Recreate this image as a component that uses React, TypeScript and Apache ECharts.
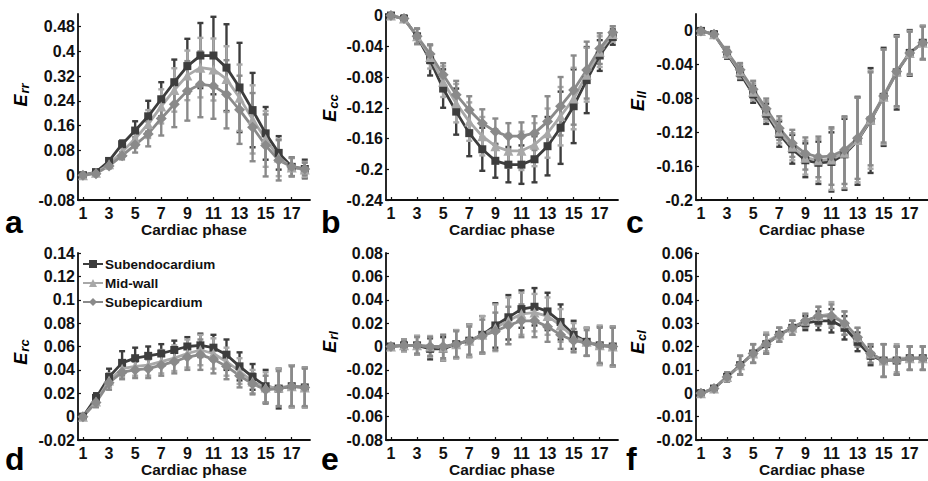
import React, { useEffect, useRef } from "react";
import * as echarts from "echarts";

const phases = [1, 2, 3, 4, 5, 6, 7, 8, 9, 10, 11, 12, 13, 14, 15, 16, 17, 18];
const oddTicks = [1, 3, 5, 7, 9, 11, 13, 15, 17];
const seriesNames = ["Subendocardium", "Mid-wall", "Subepicardium"];
const panelLetters = ["a", "b", "c", "d", "e", "f"];
const strainLabels = [["E", "rr"], ["E", "cc"], ["E", "ll"], ["E", "rc"], ["E", "rl"], ["E", "cl"]];
const xAxisTitle = "Cardiac phase";

// Panel a: Err
const errEndo = [0, 0.01, 0.046, 0.1, 0.144, 0.19, 0.245, 0.3, 0.352, 0.386, 0.386, 0.347, 0.283, 0.21, 0.135, 0.072, 0.027, 0.02];
const errEndoSd = [0.002, 0.005, 0.008, 0.012, 0.03, 0.05, 0.055, 0.073, 0.088, 0.105, 0.125, 0.14, 0.144, 0.12, 0.085, 0.054, 0.03, 0.03];
const errMid = [0, 0.008, 0.035, 0.075, 0.118, 0.165, 0.222, 0.275, 0.322, 0.347, 0.341, 0.31, 0.25, 0.18, 0.117, 0.057, 0.025, 0.018];
const errMidSd = [0.002, 0.005, 0.008, 0.012, 0.03, 0.045, 0.055, 0.07, 0.08, 0.096, 0.1, 0.106, 0.107, 0.11, 0.09, 0.06, 0.03, 0.025];
const errEpi = [0, 0.005, 0.03, 0.063, 0.098, 0.133, 0.183, 0.229, 0.272, 0.293, 0.288, 0.261, 0.211, 0.155, 0.096, 0.048, 0.027, 0.02];
const errEpiSd = [0.002, 0.005, 0.008, 0.012, 0.025, 0.04, 0.055, 0.074, 0.096, 0.106, 0.106, 0.11, 0.11, 0.11, 0.1, 0.065, 0.03, 0.02];

// Panel b: Ecc
const eccEndo = [0, -0.004, -0.027, -0.058, -0.095, -0.125, -0.153, -0.174, -0.189, -0.194, -0.194, -0.187, -0.17, -0.146, -0.118, -0.084, -0.052, -0.028];
const eccEndoSd = [0.001, 0.004, 0.01, 0.02, 0.025, 0.03, 0.03, 0.028, 0.022, 0.023, 0.025, 0.03, 0.038, 0.047, 0.048, 0.043, 0.02, 0.01];
const eccMid = [0, -0.004, -0.027, -0.054, -0.086, -0.114, -0.138, -0.157, -0.17, -0.176, -0.176, -0.168, -0.153, -0.131, -0.108, -0.077, -0.047, -0.024];
const eccMidSd = [0.001, 0.004, 0.01, 0.015, 0.02, 0.025, 0.025, 0.025, 0.022, 0.022, 0.025, 0.028, 0.032, 0.038, 0.04, 0.035, 0.02, 0.01];
const eccEpi = [0, -0.004, -0.027, -0.05, -0.077, -0.103, -0.123, -0.14, -0.151, -0.157, -0.157, -0.153, -0.138, -0.118, -0.097, -0.071, -0.043, -0.022];
const eccEpiSd = [0.001, 0.004, 0.01, 0.012, 0.015, 0.018, 0.018, 0.018, 0.017, 0.017, 0.018, 0.022, 0.033, 0.038, 0.045, 0.037, 0.02, 0.008];

// Panel c: Ell
const ellEndo = [0, -0.004, -0.027, -0.05, -0.075, -0.098, -0.122, -0.14, -0.153, -0.156, -0.155, -0.146, -0.13, -0.106, -0.078, -0.049, -0.026, -0.014];
const ellEndoSd = [0.001, 0.003, 0.006, 0.008, 0.01, 0.012, 0.015, 0.017, 0.02, 0.025, 0.035, 0.042, 0.052, 0.062, 0.058, 0.044, 0.027, 0.02];
const ellMid = [0, -0.004, -0.026, -0.048, -0.072, -0.095, -0.119, -0.137, -0.15, -0.153, -0.152, -0.144, -0.129, -0.105, -0.078, -0.048, -0.026, -0.014];
const ellMidSd = [0.001, 0.003, 0.006, 0.008, 0.01, 0.012, 0.014, 0.016, 0.02, 0.025, 0.036, 0.042, 0.05, 0.058, 0.056, 0.042, 0.026, 0.02];
const ellEpi = [0, -0.004, -0.025, -0.046, -0.069, -0.092, -0.115, -0.133, -0.145, -0.149, -0.148, -0.141, -0.127, -0.104, -0.077, -0.048, -0.026, -0.014];
const ellEpiSd = [0.001, 0.003, 0.006, 0.008, 0.01, 0.012, 0.014, 0.016, 0.019, 0.024, 0.034, 0.04, 0.048, 0.055, 0.055, 0.041, 0.025, 0.019];

// Panel d: Erc
const ercEndo = [0, 0.016, 0.034, 0.046, 0.05, 0.052, 0.054, 0.057, 0.06, 0.061, 0.059, 0.053, 0.043, 0.034, 0.026, 0.024, 0.026, 0.025];
const ercEndoSd = [0.001, 0.004, 0.007, 0.01, 0.009, 0.008, 0.008, 0.008, 0.008, 0.01, 0.011, 0.013, 0.012, 0.011, 0.014, 0.017, 0.018, 0.017];
const ercMid = [0, 0.013, 0.031, 0.041, 0.043, 0.044, 0.047, 0.05, 0.054, 0.057, 0.054, 0.047, 0.039, 0.03, 0.025, 0.025, 0.026, 0.025];
const ercMidSd = [0.001, 0.004, 0.006, 0.007, 0.008, 0.009, 0.01, 0.011, 0.012, 0.013, 0.013, 0.012, 0.011, 0.01, 0.013, 0.016, 0.018, 0.017];
const ercEpi = [0, 0.012, 0.029, 0.038, 0.04, 0.041, 0.044, 0.047, 0.051, 0.053, 0.049, 0.043, 0.035, 0.028, 0.023, 0.024, 0.026, 0.025];
const ercEpiSd = [0.001, 0.004, 0.006, 0.006, 0.007, 0.008, 0.009, 0.01, 0.011, 0.013, 0.012, 0.011, 0.01, 0.009, 0.012, 0.015, 0.017, 0.016];

// Panel e: Erl
const erlEndo = [0, 0.001, 0.001, -0.002, -0.002, 0.002, 0.005, 0.01, 0.018, 0.025, 0.032, 0.034, 0.03, 0.021, 0.01, 0.004, 0.001, 0];
const erlEndoSd = [0.001, 0.005, 0.008, 0.009, 0.01, 0.012, 0.014, 0.016, 0.019, 0.019, 0.016, 0.016, 0.016, 0.015, 0.012, 0.012, 0.016, 0.017];
const erlMid = [0, 0.001, 0.001, 0, -0.001, 0.002, 0.005, 0.01, 0.016, 0.022, 0.028, 0.029, 0.026, 0.018, 0.008, 0.004, 0.001, 0];
const erlMidSd = [0.001, 0.005, 0.008, 0.009, 0.011, 0.012, 0.014, 0.016, 0.02, 0.02, 0.018, 0.016, 0.016, 0.014, 0.012, 0.012, 0.017, 0.017];
const erlEpi = [0, 0.001, 0.001, 0, 0, 0.002, 0.005, 0.009, 0.013, 0.018, 0.022, 0.022, 0.017, 0.01, 0.005, 0.003, 0.001, 0];
const erlEpiSd = [0.001, 0.004, 0.007, 0.008, 0.01, 0.011, 0.012, 0.014, 0.016, 0.016, 0.014, 0.014, 0.013, 0.012, 0.01, 0.011, 0.015, 0.016];

// Panel f: Ecl
const eclEndo = [0, 0.002, 0.007, 0.012, 0.017, 0.021, 0.025, 0.028, 0.03, 0.031, 0.031, 0.028, 0.022, 0.016, 0.014, 0.014, 0.015, 0.015];
const eclEndoSd = [0.001, 0.001, 0.002, 0.004, 0.004, 0.004, 0.003, 0.003, 0.003, 0.004, 0.005, 0.005, 0.004, 0.004, 0.007, 0.006, 0.005, 0.005];
const eclMid = [0, 0.002, 0.007, 0.012, 0.017, 0.022, 0.025, 0.028, 0.031, 0.033, 0.034, 0.03, 0.024, 0.017, 0.014, 0.015, 0.015, 0.015];
const eclMidSd = [0.001, 0.001, 0.002, 0.004, 0.004, 0.004, 0.003, 0.003, 0.003, 0.004, 0.005, 0.005, 0.004, 0.004, 0.007, 0.006, 0.005, 0.005];
const eclEpi = [0, 0.002, 0.007, 0.012, 0.017, 0.021, 0.025, 0.028, 0.031, 0.033, 0.033, 0.03, 0.024, 0.017, 0.014, 0.014, 0.015, 0.015];
const eclEpiSd = [0.001, 0.001, 0.002, 0.004, 0.004, 0.004, 0.003, 0.003, 0.003, 0.004, 0.005, 0.005, 0.004, 0.004, 0.007, 0.006, 0.005, 0.005];

// Y-axis ranges per panel: [min, max, interval]
const yRanges = [
  [-0.08, 0.52, 0.08],
  [-0.24, 0.002, 0.04],
  [-0.2, 0.02, 0.04],
  [-0.02, 0.14, 0.02],
  [-0.08, 0.08, 0.02],
  [-0.02, 0.06, 0.01],
];

const panels = [
  [[errEndo, errEndoSd], [errMid, errMidSd], [errEpi, errEpiSd]],
  [[eccEndo, eccEndoSd], [eccMid, eccMidSd], [eccEpi, eccEpiSd]],
  [[ellEndo, ellEndoSd], [ellMid, ellMidSd], [ellEpi, ellEpiSd]],
  [[ercEndo, ercEndoSd], [ercMid, ercMidSd], [ercEpi, ercEpiSd]],
  [[erlEndo, erlEndoSd], [erlMid, erlMidSd], [erlEpi, erlEpiSd]],
  [[eclEndo, eclEndoSd], [eclMid, eclMidSd], [eclEpi, eclEpiSd]],
];

const COLORS = ["#3d3d3d", "#a8a8a8", "#8a8a8a"];
const SYMBOLS = ["rect", "triangle", "diamond"];
const SYMBOL_SIZES = [8, 10, 11];
const FONT = "'Liberation Sans', Arial, Helvetica, sans-serif";

const GRID_LEFTS = [78, 386, 696];
const GRID_TOPS = [14, 253];
const GRID_HEIGHTS = [186, 187];
const GRID_WIDTH = 232;

// label positions (panel letter, y-axis title centre)
const LETTER_POS = [
  [5, 236], [321, 236], [626, 236],
  [5, 473], [321, 473], [626, 473],
];
const YTITLE_POS = [
  [21, 95], [330, 108], [638, 101],
  [21, 352], [330, 342], [638, 342],
];

export default function App() {
  const ref = useRef<HTMLDivElement>(null);

  useEffect(() => {
    if (!ref.current) return;
    const chart = echarts.init(ref.current, null, { renderer: "svg" });

    const grids: any[] = [];
    const xAxes: any[] = [];
    const yAxes: any[] = [];
    const series: any[] = [];

    panels.forEach((panel, p) => {
      const col = p % 3;
      const row = Math.floor(p / 3);
      grids.push({
        left: GRID_LEFTS[col],
        top: GRID_TOPS[row],
        width: GRID_WIDTH,
        height: GRID_HEIGHTS[row],
        containLabel: false,
      });
      xAxes.push({
        type: "value",
        gridIndex: p,
        min: 0.62,
        max: 18.4,
        name: xAxisTitle,
        nameLocation: "middle",
        nameGap: 20,
        nameTextStyle: { fontFamily: FONT, fontWeight: "bold", fontSize: 15.5, color: "#111" },
        axisLine: { onZero: false, lineStyle: { color: "#111", width: 1.8 } },
        axisTick: { inside: true, length: 3, customValues: oddTicks, lineStyle: { color: "#111", width: 1.2 } },
        axisLabel: {
          customValues: oddTicks,
          margin: 5,
          fontFamily: FONT,
          fontWeight: "bold",
          fontSize: 16,
          color: "#111",
        },
        splitLine: { show: false },
      });
      const [mn, mx, iv] = yRanges[p];
      yAxes.push({
        type: "value",
        gridIndex: p,
        min: mn,
        max: mx,
        interval: iv,
        axisLine: { show: true, onZero: false, lineStyle: { color: "#111", width: 1.8 } },
        axisTick: { show: true, inside: true, length: 3, lineStyle: { color: "#111", width: 1.2 } },
        axisLabel: {
          margin: 3,
          fontFamily: FONT,
          fontWeight: "bold",
          fontSize: 16,
          color: "#111",
          showMaxLabel: Math.abs(Math.round(mx / iv) * iv - mx) < 1e-9,
          showMinLabel: true,
        },
        splitLine: { show: false },
      });

      panel.forEach(([mean, sd], s) => {
        const color = COLORS[s];
        series.push({
          type: "custom",
          name: "err-" + p + "-" + s,
          xAxisIndex: p,
          yAxisIndex: p,
          data: phases.map((x, i) => [x, mean[i], sd[i]]),
          encode: { x: 0, y: 1 },
          silent: true,
          renderItem: (params: any, api: any) => {
            const x = api.value(0);
            const m = api.value(1);
            const d = api.value(2);
            const top = api.coord([x, m + d]);
            const bot = api.coord([x, m - d]);
            const hw = 3;
            const style = { stroke: color, lineWidth: 2.4 };
            return {
              type: "group",
              children: [
                { type: "line", shape: { x1: top[0], y1: top[1], x2: bot[0], y2: bot[1] }, style },
                { type: "line", shape: { x1: top[0] - hw, y1: top[1], x2: top[0] + hw, y2: top[1] }, style },
                { type: "line", shape: { x1: bot[0] - hw, y1: bot[1], x2: bot[0] + hw, y2: bot[1] }, style },
              ],
            };
          },
        });
        series.push({
          type: "line",
          name: seriesNames[s],
          xAxisIndex: p,
          yAxisIndex: p,
          data: phases.map((x, i) => [x, mean[i]]),
          symbol: SYMBOLS[s],
          symbolSize: SYMBOL_SIZES[s],
          showSymbol: true,
          lineStyle: { color, width: 2.8 },
          itemStyle: { color, borderWidth: 0 },
          emphasis: { disabled: true },
        });
      });
    });

    const graphics: any[] = [];
    panelLetters.forEach((letter, p) => {
      graphics.push({
        type: "text",
        left: LETTER_POS[p][0],
        top: LETTER_POS[p][1] - 30,
        style: {
          text: letter,
          fontFamily: FONT,
          fontWeight: "bold",
          fontSize: 32,
          fill: "#000",
        },
      });
      const [main, sub] = strainLabels[p];
      graphics.push({
        type: "text",
        x: YTITLE_POS[p][0],
        y: YTITLE_POS[p][1],
        rotation: Math.PI / 2,
        style: {
          text: "{e|" + main + "}{s|" + sub + "}",
          align: "center",
          verticalAlign: "middle",
          rich: {
            e: { fontFamily: FONT, fontWeight: "bold", fontStyle: "italic", fontSize: 18, fill: "#000", lineHeight: 20 },
            s: {
              fontFamily: FONT,
              fontWeight: "bold",
              fontStyle: "italic",
              fontSize: 13,
              fill: "#000",
              verticalAlign: "bottom",
              lineHeight: 13,
              padding: [10, 0, 0, 1],
            },
          },
        },
      });
    });

    chart.setOption({
      animation: false,
      backgroundColor: "#fff",
      grid: grids,
      xAxis: xAxes,
      yAxis: yAxes,
      series,
      legend: {
        data: seriesNames,
        orient: "vertical",
        left: 82,
        top: 257,
        itemWidth: 20,
        itemHeight: 10,
        itemGap: 5,
        padding: 0,
        selectedMode: false,
        textStyle: { fontFamily: FONT, fontWeight: "bold", fontSize: 13.5, color: "#111", padding: [0, 0, 0, -3] },
      },
      graphic: graphics,
    });

    return () => chart.dispose();
  }, []);

  return <div ref={ref} style={{ width: 928, height: 481, position: "absolute", left: 0, top: 0 }} />;
}
